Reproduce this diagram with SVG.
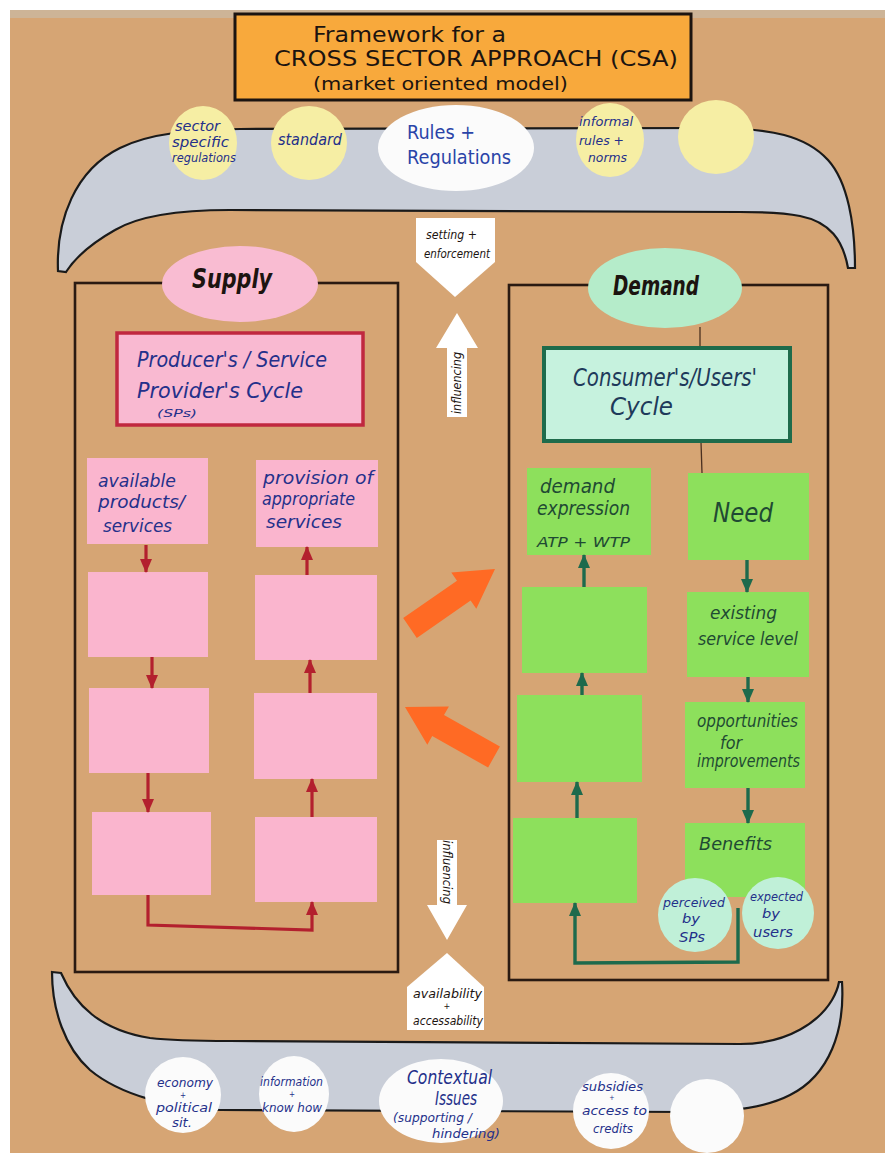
<svg xmlns="http://www.w3.org/2000/svg" width="885" height="1153" viewBox="0 0 885 1153">
<defs>
<style>
.t{font-family:"DejaVu Sans Condensed","DejaVu Sans","Liberation Sans",sans-serif;}
.h{font-family:"DejaVu Sans Condensed","DejaVu Sans","Liberation Sans",sans-serif;font-style:italic;}
.navy{fill:#24308a;}
.blk{fill:#1c1410;}
.grn{fill:#1f4a33;}
.band{fill:#c9ced8;stroke:#1a1a1a;stroke-width:2.2;}
.frame{fill:none;stroke:#2a1a12;stroke-width:2.6;}
.pink{fill:#fab5ce;}
.green{fill:#8de05c;}
.yel{fill:#f6eea4;}
.wht{fill:#fbfbfb;}
.mint{fill:#c0f0d8;}
.orange{fill:#ff6a24;}
.red{fill:none;stroke:#b3202e;stroke-width:3.2;}
.dg{fill:none;stroke:#1d6a4c;stroke-width:3.4;}
</style>
<marker id="ar" viewBox="0 0 14 12" refX="13" refY="6" markerWidth="14" markerHeight="12" markerUnits="userSpaceOnUse" orient="auto">
<path d="M0,0 L14,6 L0,12 Z" fill="#b3202e"/>
</marker>
<marker id="ag" viewBox="0 0 14 12" refX="13" refY="6" markerWidth="14" markerHeight="12" markerUnits="userSpaceOnUse" orient="auto">
<path d="M0,0 L14,6 L0,12 Z" fill="#1d6a4c"/>
</marker>
</defs>

<!-- background -->
<rect x="0" y="0" width="885" height="1153" fill="#d6a574"/>
<rect x="0" y="0" width="885" height="10" fill="#ffffff"/>
<rect x="0" y="0" width="10" height="1153" fill="#ffffff"/>
<rect x="10" y="10" width="875" height="8" fill="#cdb497"/>

<!-- bands -->
<g id="top-band">
<path class="band" d="M58,271 C56,220 75,170 120,148 C150,133 190,130 240,129 L720,128 C770,129 805,135 828,160 C848,182 855,225 855,268 L848,268 C843,240 830,222 800,216 C780,212 760,212 740,212 L230,210 C180,210 140,215 115,230 C92,243 75,258 66,272 Z"/>
</g>
<g id="bottom-band">
<path class="band" d="M52,972 L61,973 C75,1005 100,1030 150,1038 C175,1041 200,1041 230,1041 L740,1044 C790,1044 820,1020 832,1000 C836,993 838,988 839,982 L842,982 C845,1030 830,1075 790,1095 C765,1108 730,1112 690,1112 L220,1110 C170,1108 120,1095 90,1070 C65,1048 52,1010 52,972 Z"/>
</g>

<!-- title -->
<g id="title">
<rect x="235" y="14" width="456" height="86" fill="#f8a93c" stroke="#1c1410" stroke-width="3"/>
<text class="t blk" x="313" y="42" font-size="21" textLength="193" lengthAdjust="spacingAndGlyphs">Framework for a</text>
<text class="t blk" x="274" y="66" font-size="22" textLength="404" lengthAdjust="spacingAndGlyphs">CROSS SECTOR APPROACH (CSA)</text>
<text class="t blk" x="313" y="90" font-size="18" textLength="255" lengthAdjust="spacingAndGlyphs">(market oriented model)</text>
</g>

<!-- top circles -->
<g id="sector-specific">
<ellipse class="yel" cx="203" cy="143" rx="34" ry="37"/>
<text class="h navy" x="175" y="131" font-size="14" textLength="45" lengthAdjust="spacingAndGlyphs">sector</text>
<text class="h navy" x="172" y="147" font-size="14" textLength="57" lengthAdjust="spacingAndGlyphs">specific</text>
<text class="h navy" x="172" y="162" font-size="12" textLength="64" lengthAdjust="spacingAndGlyphs">regulations</text>
</g>
<g id="standard">
<ellipse class="yel" cx="309" cy="143" rx="38" ry="37"/>
<text class="h navy" x="278" y="145" font-size="15" textLength="64" lengthAdjust="spacingAndGlyphs">standard</text>
</g>
<g id="rules">
<ellipse class="wht" cx="456" cy="148" rx="78" ry="43"/>
<text class="t" fill="#2a44a8" x="407" y="139" font-size="20" textLength="68" lengthAdjust="spacingAndGlyphs">Rules +</text>
<text class="t" fill="#2a44a8" x="407" y="164" font-size="20" textLength="104" lengthAdjust="spacingAndGlyphs">Regulations</text>
</g>
<g id="informal">
<ellipse class="yel" cx="610" cy="140" rx="34" ry="37"/>
<text class="h navy" x="579" y="126" font-size="13" textLength="54" lengthAdjust="spacingAndGlyphs">informal</text>
<text class="h navy" x="579" y="145" font-size="13" textLength="45" lengthAdjust="spacingAndGlyphs">rules +</text>
<text class="h navy" x="588" y="162" font-size="13" textLength="39" lengthAdjust="spacingAndGlyphs">norms</text>
</g>
<g id="empty-yellow">
<ellipse class="yel" cx="716" cy="137" rx="38" ry="37"/>
</g>

<!-- central arrows -->
<g id="setting">
<polygon fill="#ffffff" points="416,218 495,218 495,262 455,297 416,262"/>
<text class="h blk" x="426" y="239" font-size="13" textLength="51" lengthAdjust="spacingAndGlyphs">setting +</text>
<text class="h blk" x="424" y="258" font-size="13" textLength="66" lengthAdjust="spacingAndGlyphs">enforcement</text>
</g>
<g id="influencing-up">
<polygon fill="#ffffff" points="457,313 478,348 467,348 467,417 447,417 447,348 436,348"/>
<text class="h blk" x="457" y="387" font-size="12" text-anchor="middle" textLength="62" lengthAdjust="spacingAndGlyphs" transform="rotate(-90 457 383)">influencing</text>
</g>
<g id="influencing-down">
<polygon fill="#ffffff" points="437,840 457,840 457,905 467,905 447,940 427,905 437,905"/>
<text class="h blk" x="447" y="876" font-size="12" text-anchor="middle" textLength="64" lengthAdjust="spacingAndGlyphs" transform="rotate(90 447 872)">influencing</text>
</g>
<g id="availability">
<polygon fill="#ffffff" points="447,953 484,987 484,1030 407,1030 407,987"/>
<text class="h blk" x="413" y="998" font-size="12" textLength="69" lengthAdjust="spacingAndGlyphs">availability</text>
<text class="h blk" x="447" y="1009" font-size="9" text-anchor="middle">+</text>
<text class="h blk" x="413" y="1025" font-size="12" textLength="70" lengthAdjust="spacingAndGlyphs">accessability</text>
</g>

<!-- supply side -->
<g id="supply">
<rect class="frame" x="75" y="283" width="323" height="689"/>
<ellipse cx="240" cy="284" rx="78" ry="38" fill="#f9bcd2"/>
<text class="h blk" x="192" y="288" font-size="27" font-weight="bold" textLength="80" lengthAdjust="spacingAndGlyphs">Supply</text>
</g>
<g id="producers-cycle">
<rect x="117" y="333" width="246" height="92" fill="#f9b9d1" stroke="#c0283f" stroke-width="3.5"/>
<text class="h navy" x="137" y="367" font-size="22" textLength="190" lengthAdjust="spacingAndGlyphs">Producer's / Service</text>
<text class="h navy" x="137" y="398" font-size="22" textLength="166" lengthAdjust="spacingAndGlyphs">Provider's Cycle</text>
<text class="h navy" x="157" y="417" font-size="11" textLength="40" lengthAdjust="spacingAndGlyphs">(SPs)</text>
</g>
<g id="available">
<rect class="pink" x="87" y="458" width="121" height="86"/>
<text class="h navy" x="98" y="487" font-size="18" textLength="78" lengthAdjust="spacingAndGlyphs">available</text>
<text class="h navy" x="98" y="508" font-size="18" textLength="87" lengthAdjust="spacingAndGlyphs">products/</text>
<text class="h navy" x="103" y="532" font-size="18" textLength="69" lengthAdjust="spacingAndGlyphs">services</text>
</g>
<g id="supply-left-2"><rect class="pink" x="88" y="572" width="120" height="85"/></g>
<g id="supply-left-3"><rect class="pink" x="89" y="688" width="120" height="85"/></g>
<g id="supply-left-4"><rect class="pink" x="92" y="812" width="119" height="83"/></g>
<g id="provision">
<rect class="pink" x="256" y="460" width="122" height="87"/>
<text class="h navy" x="263" y="484" font-size="18" textLength="110" lengthAdjust="spacingAndGlyphs">provision of</text>
<text class="h navy" x="262" y="505" font-size="18" textLength="93" lengthAdjust="spacingAndGlyphs">appropriate</text>
<text class="h navy" x="266" y="528" font-size="18" textLength="76" lengthAdjust="spacingAndGlyphs">services</text>
</g>
<g id="supply-right-2"><rect class="pink" x="255" y="575" width="122" height="85"/></g>
<g id="supply-right-3"><rect class="pink" x="254" y="693" width="123" height="86"/></g>
<g id="supply-right-4"><rect class="pink" x="255" y="817" width="122" height="85"/></g>

<!-- demand side -->
<g id="demand">
<rect class="frame" x="509" y="285" width="319" height="695"/>
<ellipse cx="665" cy="288" rx="77" ry="40" fill="#b5ecca"/>
<text class="h blk" x="613" y="295" font-size="26" font-weight="bold" textLength="86" lengthAdjust="spacingAndGlyphs">Demand</text>
<line x1="700" y1="327" x2="700" y2="347" stroke="#4a3020" stroke-width="1.3"/>
<line x1="701" y1="442" x2="702" y2="473" stroke="#4a3020" stroke-width="1.3"/>
</g>
<g id="consumers-cycle">
<rect x="544" y="348" width="246" height="93" fill="#c6f2de" stroke="#1e6b4b" stroke-width="4"/>
<text class="h" fill="#1e3a5a" x="573" y="386" font-size="24" textLength="184" lengthAdjust="spacingAndGlyphs">Consumer's/Users'</text>
<text class="h" fill="#1e3a5a" x="610" y="415" font-size="24" textLength="63" lengthAdjust="spacingAndGlyphs">Cycle</text>
</g>
<g id="demand-expression">
<rect class="green" x="527" y="468" width="124" height="87"/>
<text class="h grn" x="540" y="493" font-size="19" textLength="75" lengthAdjust="spacingAndGlyphs">demand</text>
<text class="h grn" x="537" y="515" font-size="19" textLength="93" lengthAdjust="spacingAndGlyphs">expression</text>
<text class="h grn" x="537" y="547" font-size="14" textLength="93" lengthAdjust="spacingAndGlyphs">ATP + WTP</text>
</g>
<g id="demand-left-2"><rect class="green" x="522" y="587" width="125" height="86"/></g>
<g id="demand-left-3"><rect class="green" x="517" y="695" width="125" height="87"/></g>
<g id="demand-left-4"><rect class="green" x="513" y="818" width="124" height="85"/></g>
<g id="need">
<rect class="green" x="688" y="473" width="121" height="87"/>
<text class="h grn" x="713" y="522" font-size="26" textLength="60" lengthAdjust="spacingAndGlyphs">Need</text>
</g>
<g id="existing">
<rect class="green" x="687" y="592" width="122" height="85"/>
<text class="h grn" x="710" y="619" font-size="17" textLength="67" lengthAdjust="spacingAndGlyphs">existing</text>
<text class="h grn" x="698" y="645" font-size="17" textLength="100" lengthAdjust="spacingAndGlyphs">service level</text>
</g>
<g id="opportunities">
<rect class="green" x="685" y="702" width="120" height="86"/>
<text class="h grn" x="697" y="727" font-size="17" textLength="101" lengthAdjust="spacingAndGlyphs">opportunities</text>
<text class="h grn" x="720" y="749" font-size="17" textLength="22" lengthAdjust="spacingAndGlyphs">for</text>
<text class="h grn" x="697" y="767" font-size="17" textLength="103" lengthAdjust="spacingAndGlyphs">improvements</text>
</g>
<g id="benefits">
<rect class="green" x="685" y="823" width="120" height="74"/>
<text class="h grn" x="699" y="850" font-size="18" textLength="73" lengthAdjust="spacingAndGlyphs">Benefits</text>
</g>
<g id="perceived">
<circle class="mint" cx="695" cy="915" r="37"/>
<text class="h navy" x="663" y="907" font-size="13" textLength="62" lengthAdjust="spacingAndGlyphs">perceived</text>
<text class="h navy" x="682" y="923" font-size="13" textLength="18" lengthAdjust="spacingAndGlyphs">by</text>
<text class="h navy" x="679" y="942" font-size="14" textLength="26" lengthAdjust="spacingAndGlyphs">SPs</text>
</g>
<g id="expected">
<circle class="mint" cx="778" cy="913" r="36"/>
<text class="h navy" x="750" y="901" font-size="13" textLength="53" lengthAdjust="spacingAndGlyphs">expected</text>
<text class="h navy" x="762" y="918" font-size="13" textLength="18" lengthAdjust="spacingAndGlyphs">by</text>
<text class="h navy" x="753" y="937" font-size="14" textLength="40" lengthAdjust="spacingAndGlyphs">users</text>
</g>

<!-- orange arrows -->
<g id="arrow-supply-to-demand">
<polygon class="orange" points="416.8,637.9 470.6,600.6 476.3,608.8 495,569 451.3,572.6 457.0,580.8 403.2,618.1"/>
</g>
<g id="arrow-demand-to-supply">
<polygon class="orange" points="499.9,746.5 444.0,715.1 448.9,706.4 405,707 427.3,744.8 432.2,736.1 488.1,767.5"/>
</g>

<!-- bottom circles -->
<g id="economy">
<circle class="wht" cx="183" cy="1095" r="38"/>
<text class="h navy" x="157" y="1087" font-size="13" textLength="56" lengthAdjust="spacingAndGlyphs">economy</text>
<text class="h navy" x="183" y="1098" font-size="8" text-anchor="middle">+</text>
<text class="h navy" x="156" y="1112" font-size="13" textLength="56" lengthAdjust="spacingAndGlyphs">political</text>
<text class="h navy" x="172" y="1127" font-size="12" textLength="20" lengthAdjust="spacingAndGlyphs">sit.</text>
</g>
<g id="information">
<ellipse class="wht" cx="294" cy="1094" rx="35" ry="38"/>
<text class="h navy" x="260" y="1086" font-size="12" textLength="63" lengthAdjust="spacingAndGlyphs">information</text>
<text class="h navy" x="292" y="1097" font-size="8" text-anchor="middle">+</text>
<text class="h navy" x="262" y="1112" font-size="12" textLength="60" lengthAdjust="spacingAndGlyphs">know how</text>
</g>
<g id="contextual">
<ellipse class="wht" cx="441" cy="1101" rx="62" ry="42"/>
<text class="h navy" x="407" y="1084" font-size="19" textLength="85" lengthAdjust="spacingAndGlyphs">Contextual</text>
<text class="h navy" x="435" y="1105" font-size="19" textLength="42" lengthAdjust="spacingAndGlyphs">Issues</text>
<text class="h navy" x="393" y="1122" font-size="13" textLength="79" lengthAdjust="spacingAndGlyphs">(supporting /</text>
<text class="h navy" x="432" y="1138" font-size="13" textLength="68" lengthAdjust="spacingAndGlyphs">hindering)</text>
</g>
<g id="subsidies">
<circle class="wht" cx="611" cy="1111" r="38"/>
<text class="h navy" x="582" y="1091" font-size="12" textLength="61" lengthAdjust="spacingAndGlyphs">subsidies</text>
<text class="h navy" x="612" y="1100" font-size="7" text-anchor="middle">+</text>
<text class="h navy" x="582" y="1115" font-size="12" textLength="65" lengthAdjust="spacingAndGlyphs">access to</text>
<text class="h navy" x="593" y="1133" font-size="12" textLength="40" lengthAdjust="spacingAndGlyphs">credits</text>
</g>
<g id="empty-white">
<circle class="wht" cx="707" cy="1116" r="37"/>
</g>

<!-- connectors -->
<g id="connectors">
<line class="red" x1="146" y1="545" x2="146" y2="572" marker-end="url(#ar)"/>
<line class="red" x1="152" y1="657" x2="152" y2="688" marker-end="url(#ar)"/>
<line class="red" x1="148" y1="773" x2="148" y2="812" marker-end="url(#ar)"/>
<polyline class="red" points="148,895 148,925 312,930 312,902" marker-end="url(#ar)"/>
<line class="red" x1="312" y1="817" x2="312" y2="779" marker-end="url(#ar)"/>
<line class="red" x1="310" y1="693" x2="310" y2="660" marker-end="url(#ar)"/>
<line class="red" x1="307" y1="575" x2="307" y2="547" marker-end="url(#ar)"/>
<line class="dg" x1="747" y1="560" x2="747" y2="592" marker-end="url(#ag)"/>
<line class="dg" x1="748" y1="677" x2="748" y2="702" marker-end="url(#ag)"/>
<line class="dg" x1="748" y1="788" x2="748" y2="823" marker-end="url(#ag)"/>
<polyline class="dg" points="738,908 738,962 575,963 575,903" marker-end="url(#ag)"/>
<line class="dg" x1="577" y1="818" x2="577" y2="782" marker-end="url(#ag)"/>
<line class="dg" x1="582" y1="695" x2="582" y2="673" marker-end="url(#ag)"/>
<line class="dg" x1="584" y1="587" x2="584" y2="555" marker-end="url(#ag)"/>
</g>
</svg>
